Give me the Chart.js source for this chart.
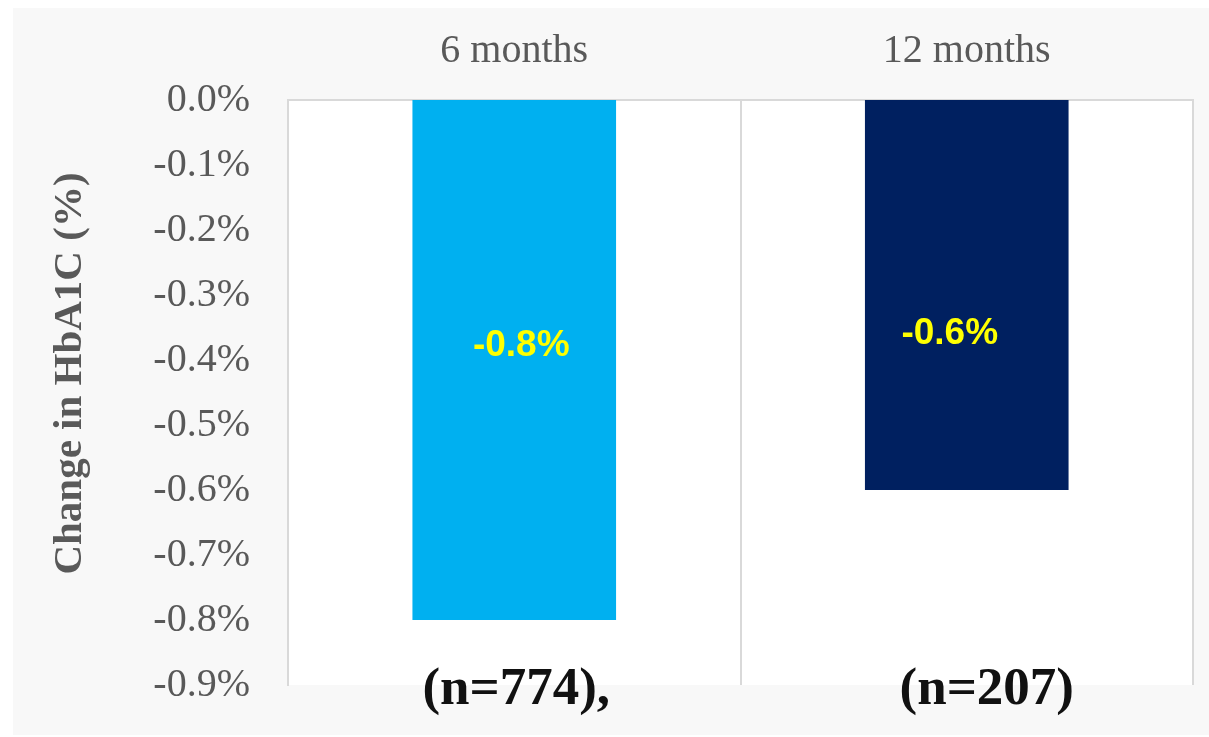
<!DOCTYPE html>
<html>
<head>
<meta charset="utf-8">
<script src="https://cdn.jsdelivr.net/npm/chart.js@4/dist/chart.umd.min.js"></script>
<style>
  html, body { margin: 0; padding: 0; background: #ffffff; }
  #wrap { position: absolute; left: 13px; top: 8px; width: 1196px; height: 727px; background: #f8f8f8; }
  canvas { display: block; }
</style>
</head>
<body>
<div id="wrap"><canvas id="c" width="1196" height="727"></canvas></div>
<script>
const categories = ['6 months', '12 months'];
const changeValues = [-0.8, -0.6];
const valueLabels = ['-0.8%', '-0.6%'];
const sampleLabels = ['(n=774),', '(n=207)'];
const barColors = ['#00b0f0', '#002060'];
const yAxisTitle = 'Change in HbA1C (%)';

const plotBg = {
  id: 'plotBg',
  beforeDraw(chart) {
    const { ctx, chartArea: a } = chart;
    ctx.save();
    ctx.fillStyle = '#ffffff';
    ctx.fillRect(a.left, a.top, a.right - a.left, a.bottom - a.top);
    ctx.restore();
  }
};

const extraText = {
  id: 'extraText',
  afterDraw(chart, args, opts) {
    const { ctx, chartArea: a } = chart;
    const meta = chart.getDatasetMeta(0);
    ctx.save();
    // value labels inside bars
    ctx.font = 'bold 37px "Liberation Sans", Arial, sans-serif';
    ctx.fillStyle = '#ffff00';
    ctx.textAlign = 'center';
    ctx.textBaseline = 'middle';
    meta.data.forEach((bar, i) => {
      const off = opts.valueOffsets[i];
      const cy = (bar.y + bar.base) / 2;
      ctx.fillText(valueLabels[i], bar.x + off[0], cy + off[1]);
    });
    // sample size labels below plot
    ctx.font = 'bold 53px "Liberation Serif", "Times New Roman", serif';
    ctx.fillStyle = '#111111';
    meta.data.forEach((bar, i) => {
      const off = opts.sampleOffsets[i];
      ctx.fillText(sampleLabels[i], bar.x + off, a.bottom + 5);
    });
    // y axis title
    ctx.translate(57, (a.top + a.bottom) / 2 - 19);
    ctx.rotate(-Math.PI / 2);
    ctx.font = 'bold 41px "Liberation Serif", "Times New Roman", serif';
    ctx.fillStyle = '#595959';
    ctx.fillText(yAxisTitle, 0, 0);
    ctx.restore();
  }
};

new Chart(document.getElementById('c'), {
  type: 'bar',
  data: {
    labels: categories,
    datasets: [{
      data: changeValues,
      backgroundColor: barColors,
      borderWidth: 0,
      barPercentage: 0.45,
      categoryPercentage: 1.0
    }]
  },
  options: {
    responsive: false,
    animation: false,
    devicePixelRatio: 1,
    layout: { padding: { left: 0, right: 16, top: 0, bottom: 50 } },
    plugins: {
      legend: { display: false },
      tooltip: { enabled: false },
      extraText: {
        valueOffsets: [[7, -14], [-17, 39]],
        sampleOffsets: [2, 20]
      }
    },
    scales: {
      x: {
        position: 'top',
        afterFit(s) { s.height = 92; },
        grid: { offset: true, color: '#d9d9d9', lineWidth: 2, drawTicks: false },
        border: { display: true, color: '#d9d9d9', width: 2 },
        ticks: {
          padding: 25,
          color: '#595959',
          font: { family: '"Liberation Serif", "Times New Roman", serif', size: 40 }
        }
      },
      y: {
        min: -0.9,
        max: 0,
        afterFit(s) { s.width = 275; s.paddingTop = 0; s.paddingBottom = 0; },
        grid: { display: false, drawTicks: false },
        border: { display: true, color: '#d9d9d9', width: 2 },
        ticks: {
          stepSize: 0.1,
          padding: 38,
          color: '#595959',
          font: { family: '"Liberation Serif", "Times New Roman", serif', size: 40 },
          callback: (v) => (Math.abs(v) < 1e-9 ? 0 : v).toFixed(1) + '%'
        }
      }
    }
  },
  plugins: [plotBg, extraText]
});
</script>
</body>
</html>
